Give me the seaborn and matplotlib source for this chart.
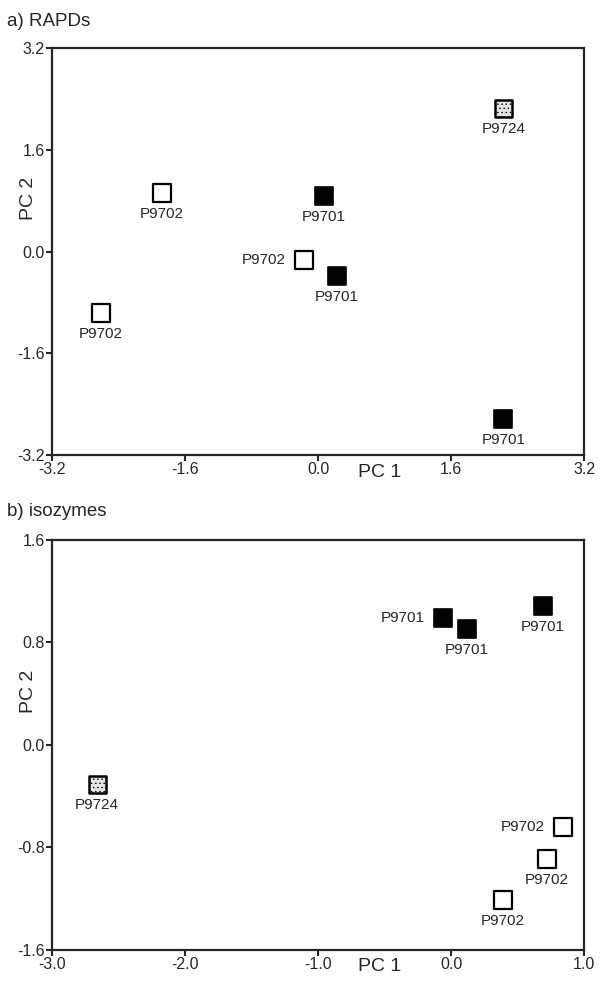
import matplotlib

matplotlib.use("Agg")
import matplotlib.pyplot as plt
import pandas as pd
import seaborn as sns

# a) RAPDs
RAPD_PC1 = [2.23, -1.88, 0.07, -0.17, 0.23, -2.61, 2.23]
RAPD_PC2 = [2.25, 0.92, 0.87, -0.13, -0.38, -0.97, -2.63]
RAPD_POP = ["P9724", "P9702", "P9701", "P9702", "P9701", "P9702", "P9701"]
RAPD_SIDE = ["below", "below", "below", "left", "below", "below", "below"]

# b) isozymes
ISO_PC1 = [-2.66, -0.06, 0.12, 0.69, 0.84, 0.72, 0.39]
ISO_PC2 = [-0.31, 0.99, 0.90, 1.08, -0.64, -0.89, -1.21]
ISO_POP = ["P9724", "P9701", "P9701", "P9701", "P9702", "P9702", "P9702"]
ISO_SIDE = ["below", "left", "below", "below", "left", "below", "below"]

RAPD_TICKS = [-3.2, -1.6, 0.0, 1.6, 3.2]
ISO_XTICKS = [-3.0, -2.0, -1.0, 0.0, 1.0]
ISO_YTICKS = [-1.6, -0.8, 0.0, 0.8, 1.6]

STYLES = {
    "P9701": dict(facecolor="black", edgecolor="black", linewidth=1.2),
    "P9702": dict(facecolor="white", edgecolor="black", linewidth=1.6),
    "P9724": dict(facecolor="#e4e4e4", edgecolor="black", linewidth=1.8, hatch="...."),
}

sns.set_style("ticks")
plt.rcParams["font.family"] = ["Liberation Sans", "DejaVu Sans"]
plt.rcParams["hatch.linewidth"] = 0.5
plt.rcParams["hatch.color"] = "#777777"


def draw_panel(ax, pc1, pc2, pops, sides, xlim, ylim, xticks, yticks):
    df = pd.DataFrame({"PC1": pc1, "PC2": pc2, "pop": pops})
    for pop, style in STYLES.items():
        sub = df[df["pop"] == pop]
        if len(sub):
            sns.scatterplot(data=sub, x="PC1", y="PC2", marker="s", s=150, ax=ax, legend=False, zorder=3, **style)
    for x, y, name, side in zip(pc1, pc2, pops, sides):
        if side == "left":
            ax.annotate(name, (x, y), xytext=(-13, 0), textcoords="offset points",
                        ha="right", va="center", fontsize=11)
        else:
            ax.annotate(name, (x, y), xytext=(0, -10), textcoords="offset points",
                        ha="center", va="top", fontsize=11)
    ax.set_xlim(xlim)
    ax.set_ylim(ylim)
    ax.set_xticks(xticks)
    ax.set_yticks(yticks)
    ax.set_xticklabels([f"{t:.1f}" for t in xticks])
    ax.set_yticklabels([f"{t:.1f}" for t in yticks])
    ax.tick_params(direction="out", length=4, width=1.5, labelsize=11.5, pad=1)
    for spine in ax.spines.values():
        spine.set_linewidth(1.6)
        spine.set_visible(True)
    ax.set_xlabel("PC 1", fontsize=14, va="center")
    ax.set_ylabel("PC 2", fontsize=14, va="center")
    ax.xaxis.set_label_coords(0.615, -0.042)
    ax.yaxis.set_label_coords(-0.045, 0.63)


fig = plt.figure(figsize=(6.09, 9.81), dpi=100)
ax1 = fig.add_axes([0.0854, 0.536, 0.8736, 0.415])
ax2 = fig.add_axes([0.0854, 0.032, 0.8736, 0.418])

draw_panel(ax1, RAPD_PC1, RAPD_PC2, RAPD_POP, RAPD_SIDE, (-3.2, 3.2), (-3.2, 3.2), RAPD_TICKS, RAPD_TICKS)
draw_panel(ax2, ISO_PC1, ISO_PC2, ISO_POP, ISO_SIDE, (-3.0, 1.0), (-1.6, 1.6), ISO_XTICKS, ISO_YTICKS)

fig.text(0.012, 0.978, "a) RAPDs", fontsize=13.5, ha="left", va="center")
fig.text(0.012, 0.479, "b) isozymes", fontsize=13.5, ha="left", va="center")

fig.savefig("out.png", dpi=100)
